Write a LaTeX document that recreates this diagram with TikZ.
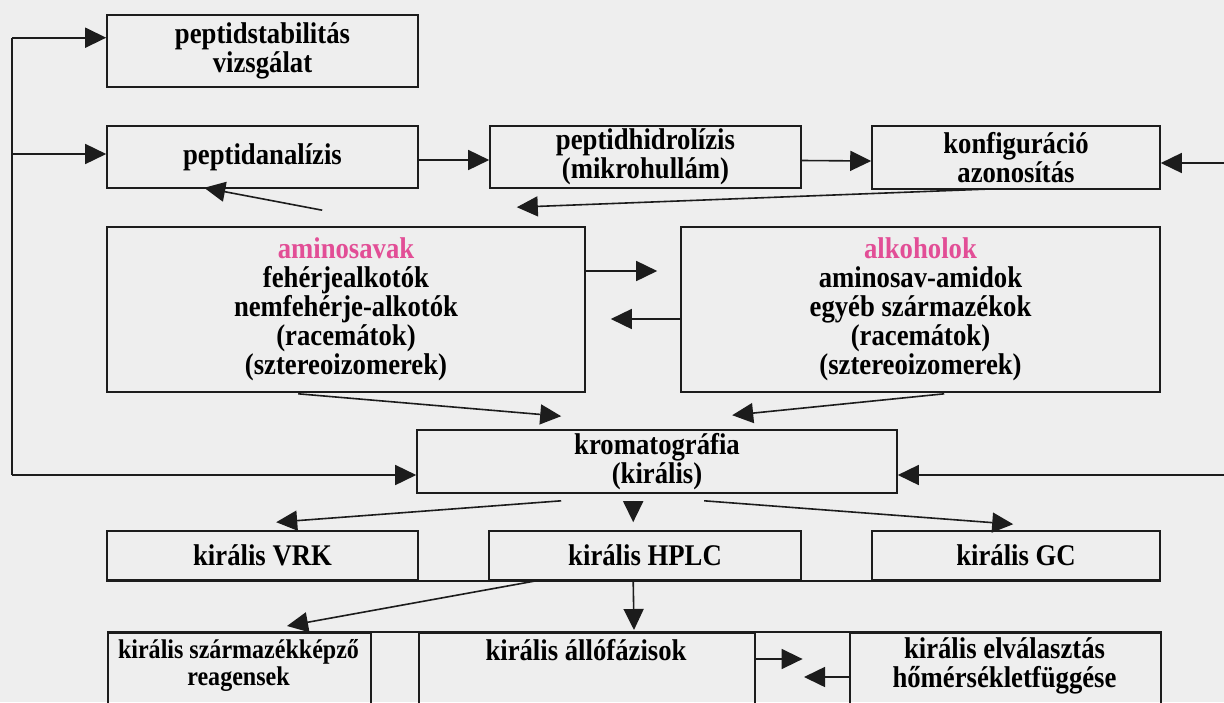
\documentclass[tikz,border=0pt]{standalone}
\usepackage{fontspec}
\setmainfont{Liberation Serif}
\newfontfamily\figfont[FakeStretch=0.89]{Liberation Serif}
\usetikzlibrary{arrows.meta,calc}
\definecolor{bg}{RGB}{238,238,238}
\definecolor{ink}{RGB}{28,28,28}
\definecolor{rose}{RGB}{226,78,150}
\begin{document}
\begin{tikzpicture}[x=1pt,y=-1pt,
  box/.style={draw=ink, line width=1.6pt, inner sep=0pt, align=center,
    font=\figfont\fontsize{30}{29}\selectfont\bfseries, text=black},
  txt/.style={inner sep=0pt, align=center, font=\figfont\fontsize{30}{29}\selectfont\bfseries, text=black},
  arr/.style={draw=ink, line width=1.6pt, -{Triangle[length=21pt,width=20pt]}},
  ln/.style={draw=ink, line width=1.6pt}]
\useasboundingbox (0,0) rectangle (1224,702);
\fill[bg] (0,0) rectangle (1224,702);
\clip (0,0) rectangle (1224,702);

% boxes
\node[box, minimum width=311pt, minimum height=72pt] (stab) at (262.5,51) {peptidstabilitás\\vizsgálat};
\node[box, minimum width=311pt, minimum height=62pt] (anal) at (262.5,157) {peptidanalízis};
\node[box, minimum width=311pt, minimum height=62pt] (hidro) at (645.5,157) {peptidhidrolízis\\(mikrohullám)};
\node[box, minimum width=288pt, minimum height=63pt] (konf) at (1016,157.5) {konfiguráció\\azonosítás};
\node[box, minimum width=478pt, minimum height=165pt] (amino) at (346,309.5)
  {{\color{rose}aminosavak}\\fehérjealkotók\\nemfehérje-alkotók\\(racemátok)\\(sztereoizomerek)};
\node[box, minimum width=479pt, minimum height=165pt] (alko) at (920.5,309.5)
  {{\color{rose}alkoholok}\\aminosav-amidok\\egyéb származékok\\(racemátok)\\(sztereoizomerek)};
\node[box, minimum width=480pt, minimum height=63pt] (krom) at (657,461.5) {kromatográfia\\(királis)};
\node[box, minimum width=311pt, minimum height=49pt] (vrk) at (262.5,555.5) {királis VRK};
\node[box, minimum width=312pt, minimum height=49pt] (hplc) at (645,555.5) {királis HPLC};
\node[box, minimum width=288pt, minimum height=49pt] (gc) at (1016,555.5) {királis GC};
\node[box, anchor=north west, minimum width=263pt, minimum height=90pt] (szarm) at (107,632) {};
\node[box, anchor=north west, minimum width=336pt, minimum height=90pt] (allo) at (418,632) {};
\node[box, anchor=north west, minimum width=311pt, minimum height=90pt] (elval) at (849,632) {};
\node[txt, font=\figfont\fontsize{27}{27}\selectfont\bfseries] (szarmT) at (238.5,665) {királis származékképző\\reagensek};
\node[txt] (alloT) at (586,650) {királis állófázisok};
\node[txt] (elvalT) at (1004.5,666) {királis elválasztás\\hőmérsékletfüggése};

% row lines
\draw[ln] (vrk.south west) -- (gc.south east);
\draw[ln] (szarm.north west) -- (elval.north east);

% feedback loops
\coordinate (fbtop) at (12,37.7);
\coordinate (fbmid) at (12,154);
\coordinate (fbbot) at (12,475);
\coordinate (rtop) at (1230,163);
\coordinate (rbot) at (1230,475);
\draw[ln] (fbbot) -- (fbtop);
\draw[arr] (fbtop) -- (fbtop -| stab.west);
\draw[arr] (fbmid) -- (fbmid -| anal.west);
\draw[arr] (fbbot) -- (fbbot -| krom.west);
\draw[arr] (rtop) -- (rtop -| konf.east);
\draw[arr] (rbot) -- (rbot -| krom.east);

% flow arrows
\draw[arr] ([yshift=-3pt]anal.east) -- ([yshift=-3pt]hidro.west);
\draw[arr] ([yshift=-3.5pt]hidro.east) -- ([yshift=-3.5pt]konf.west);
\draw[arr] ($(konf.south)+(-21,-1)$) -- ($(amino.north east)+(-69,-19)$);
\draw[arr] ($(amino.north west)+(216,-16)$) -- ($(anal.south west)+(98,-1)$);
\draw[arr] ($(amino.east)+(0,-38.5)$) -- ($(alko.west)+(-23,-38.5)$);
\draw[arr] ($(alko.west)+(0,9.5)$) -- ($(amino.east)+(25,9.5)$);
\draw[arr] ($(amino.south west)+(192,1)$) -- ($(krom.north west)+(145,-13)$);
\draw[arr] ($(alko.south west)+(264,1)$) -- ($(krom.north west)+(316,-14)$);
\draw[arr] ($(krom.south west)+(145,7)$) -- ($(vrk.north west)+(170,-8)$);
\draw[arr] ($(krom.south west)+(217,7)$) -- ($(hplc.north west)+(145,-8)$);
\draw[arr] ($(krom.south west)+(288,7)$) -- ($(gc.north west)+(142,-6)$);
\draw[arr] ($(hplc.south west)+(48,0)$) -- ($(szarm.north west)+(180,-6)$);
\draw[arr] ($(hplc.south west)+(145,0)$) -- ($(allo.north west)+(216,-2)$);
\draw[arr] ($(allo.north east)+(0,27)$) -- ($(allo.north east)+(47,27)$);
\draw[arr] ($(elval.north west)+(0,45)$) -- ($(elval.north west)+(-45,45)$);
\end{tikzpicture}
\end{document}
